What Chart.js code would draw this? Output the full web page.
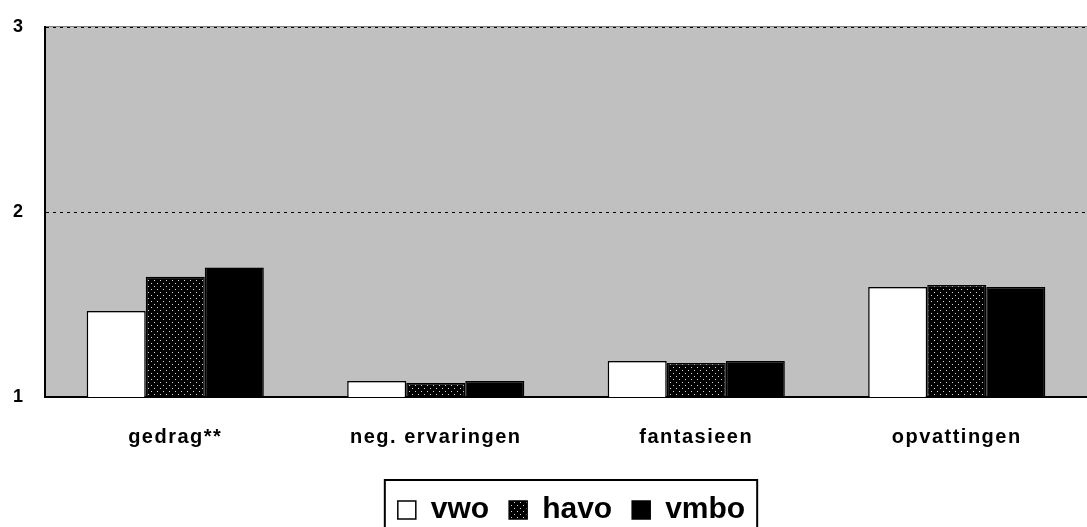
<!DOCTYPE html>
<html>
<head>
<meta charset="utf-8">
<script src="https://cdn.jsdelivr.net/npm/chart.js@4.4.0/dist/chart.umd.min.js"></script>
<style>
    html, body { margin: 0; padding: 0; background: #fff; overflow: hidden; }
    #wrap { width: 1087px; height: 535px; }
</style>
</head>
<body>
<div id="wrap"><canvas id="chart" width="1087" height="535"></canvas></div>
<script>
// --- DATA ---
const categories = ['gedrag**', 'neg. ervaringen', 'fantasieen', 'opvattingen'];
const vwo = [1.465, 1.086, 1.195, 1.595];
const havo = [1.65, 1.076, 1.184, 1.605];
const vmbo = [1.70, 1.086, 1.195, 1.595];
const yTicks = [1, 2, 3];

const FONT = 'Liberation Sans, Arial, sans-serif';

// --- DOT PATTERN FOR HAVO ---
const makeDots = () => {
    const c = document.createElement('canvas');
    c.width = 6; c.height = 6;
    const g = c.getContext('2d');
    g.fillStyle = '#000';
    g.fillRect(0, 0, 6, 6);
    g.fillStyle = '#d8d8d8';
    g.fillRect(1, 1, 1, 1);
    g.fillRect(4, 4, 1, 1);
    return g.createPattern(c, 'repeat');
};
const dots = makeDots();

// --- PLUGINS ---
const plotBackground = {
    id: 'plotBackground',
    beforeDraw(chart) {
        const { ctx, chartArea: a } = chart;
        ctx.save();
        ctx.fillStyle = '#c0c0c0';
        ctx.fillRect(a.left, a.top, a.right - a.left, a.bottom - a.top);
        ctx.fillStyle = '#808080';
        ctx.fillRect(a.left, a.top - 1, a.right - a.left, 1);
        ctx.restore();
    }
};

// legend sits a bit right of centre in the original, with a frame round it
const legendShift = {
    id: 'legendShift',
    afterLayout(chart) {
        chart.legend.left += 28;
        chart.legend.right += 28;
    }
};

const legendBorder = {
    id: 'legendBorder',
    afterDraw(chart) {
        const lg = chart.legend;
        if (!lg || !lg.legendHitBoxes.length) return;
        const boxes = lg.legendHitBoxes;
        const last = boxes[boxes.length - 1];
        const left = boxes[0].left - 13;
        const right = last.left + last.width + 12;
        const top = lg.top + 5;
        const { ctx } = chart;
        ctx.save();
        ctx.strokeStyle = '#000';
        ctx.lineWidth = 2;
        ctx.strokeRect(left, top, right - left, chart.height + 20 - top);
        ctx.restore();
    }
};

const ds = (label, data, fill) => ({
    label: label,
    data: data,
    backgroundColor: fill,
    borderColor: '#000',
    borderWidth: 1.5,
    borderSkipped: 'bottom'
});

const chart = new Chart(document.getElementById('chart'), {
    type: 'bar',
    data: {
        labels: categories,
        datasets: [
            ds('vwo', vwo, '#ffffff'),
            ds('havo', havo, dots),
            ds('vmbo', vmbo, '#000000')
        ]
    },
    options: {
        responsive: false,
        animation: false,
        devicePixelRatio: 1,
        layout: { padding: { top: 27, right: 0, left: 0, bottom: 0 } },
        datasets: { bar: { categoryPercentage: 0.68, barPercentage: 1.0 } },
        plugins: {
            tooltip: { enabled: false },
            legend: {
                position: 'bottom',
                labels: {
                    color: '#000',
                    font: { family: FONT, size: 30, weight: 'bold' },
                    boxWidth: 18,
                    boxHeight: 18,
                    padding: 20
                }
            }
        },
        scales: {
            x: {
                grid: { display: false },
                border: { display: true, color: '#000', width: 2 },
                ticks: {
                    color: '#000',
                    padding: 20,
                    font: { family: FONT, size: 20, weight: 'bold' }
                },
                afterFit(axis) { axis.height = 78; }
            },
            y: {
                min: 1,
                max: 3,
                afterBuildTicks(axis) { axis.ticks = yTicks.map(v => ({ value: v })); },
                grid: {
                    drawTicks: false,
                    color: ctx => ctx.tick && ctx.tick.value === 1 ? 'rgba(0,0,0,0)' : '#000',
                    lineWidth: 1
                },
                border: { display: true, color: '#000', width: 2, dash: [3, 4] },
                ticks: {
                    color: '#000',
                    padding: 22,
                    font: { family: FONT, size: 18, weight: 'bold' }
                },
                afterFit(axis) {
                    axis.width = 45;
                    axis.paddingTop = 0;
                    axis.paddingBottom = 0;
                }
            }
        }
    },
    plugins: [plotBackground, legendShift, legendBorder]
});

// category labels are slightly spaced out in the original
const xScale = chart.scales.x;
const drawXLabels = xScale.drawLabels.bind(xScale);
xScale.drawLabels = function (area) {
    this.ctx.save();
    this.ctx.letterSpacing = '1.5px';
    drawXLabels(area);
    this.ctx.restore();
};
chart.draw();
</script>
</body>
</html>
